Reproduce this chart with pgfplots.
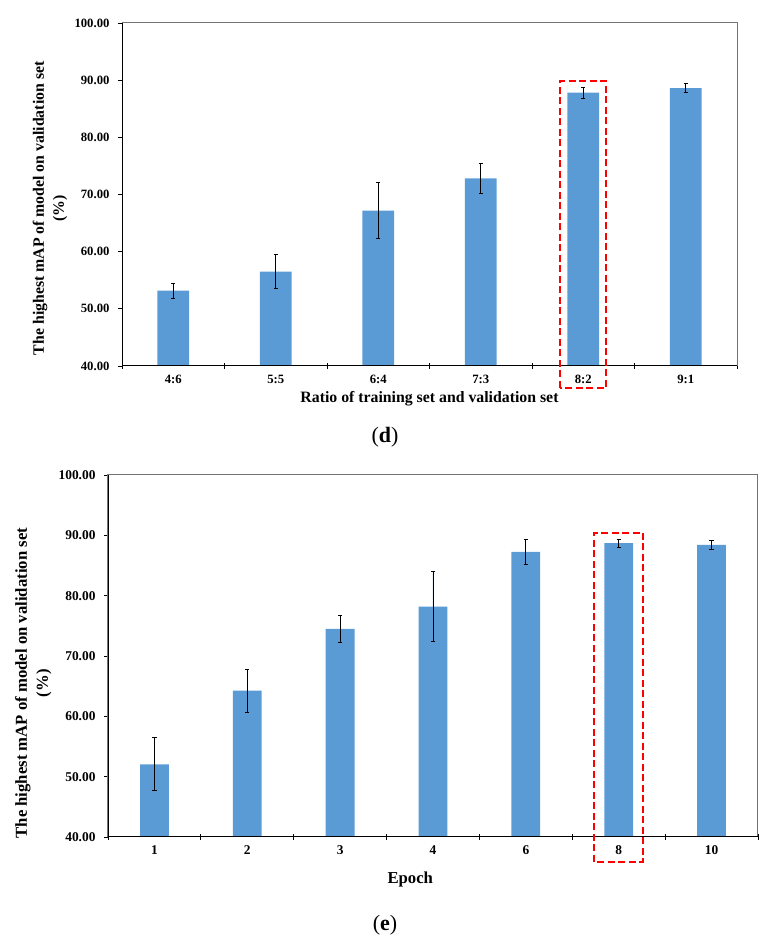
\documentclass[border=0pt]{standalone}
\usepackage{pgfplots}
\pgfplotsset{compat=1.18}
\usepackage{fontspec}
\setmainfont{Liberation Serif}
\definecolor{barblue}{HTML}{5B9BD5}
\definecolor{boxred}{HTML}{FF0000}
\pgfplotsset{
  mapbars/.style={
    scale only axis, ybar, bar width=0.31,
    ymin=40, ymax=100, ytick={40,50,...,100},
    axis line style={draw=black!55, line width=1pt},
    tick style={draw=black, line width=0.9pt},
    xtick pos=left, ytick pos=left, tick align=outside,
    major tick length=4pt, minor tick length=6pt,
    major x tick style={draw=none},
    minor x tick style={yshift=3pt},
    /pgf/number format/assume math mode=true,
    yticklabel style={/pgf/number format/fixed, /pgf/number format/fixed zerofill,
      /pgf/number format/precision=2, xshift=-5pt},
    xticklabel style={yshift=-1.5pt},
    ylabel style={align=center, anchor=center},
    xlabel style={anchor=center},
  },
  errstyle/.style={
    fill=barblue, draw=none,
    error bars/.cd, y dir=both, y explicit,
    error bar style={draw=black, line width=0.9pt},
    error mark options={rotate=90, draw=black, mark size=2.2pt, line width=0.9pt},
  },
}
\tikzset{redbox/.style={boxred, line width=1.8pt, dash pattern=on 7pt off 3.5pt}}
\begin{document}
\begin{tikzpicture}
\useasboundingbox (0,0) rectangle (770pt,946pt);

% panel (d)
\begin{axis}[mapbars,
  at={(122pt,580pt)}, anchor=south west, width=615pt, height=343pt,
  xmin=-0.5, xmax=5.5,
  xtick={0,...,5}, xticklabels={4:6,5:5,6:4,7:3,8:2,9:1},
  minor xtick={-0.5,0.5,...,5.5},
  tick label style={font=\bfseries\fontsize{12.7}{14}\selectfont},
  ylabel={The highest mAP of model on validation set\\(\%)},
  ylabel style={font=\bfseries\fontsize{15.8}{20}\selectfont, at={(axis description cs:-0.117,0.46)}},
  xlabel={Ratio of training set and validation set},
  xlabel style={font=\bfseries\fontsize{15.8}{18}\selectfont, at={(axis description cs:0.5,-0.096)}},
]
\addplot[errstyle] coordinates {
  (0,53.2) +- (0,1.3)
  (1,56.5) +- (0,3.0)
  (2,67.2) +- (0,4.9)
  (3,72.8) +- (0,2.6)
  (4,87.8) +- (0,0.95)
  (5,88.6) +- (0,0.8)
};
\coordinate (d1) at (axis cs:3.776,36.2);
\coordinate (d2) at (axis cs:4.222,89.86);
\coordinate (dtl) at (rel axis cs:0,1);
\coordinate (dbl) at (rel axis cs:0,0);
\coordinate (dbr) at (rel axis cs:1,0);
\end{axis}
\draw[black, line width=1pt] (dtl) -- (dbl) -- (dbr);
\draw[redbox] (d1) rectangle (d2);
\node[font=\fontsize{22}{24}\selectfont] at (385pt,509pt) {(\textbf{d})};

% panel (e)
\begin{axis}[mapbars,
  at={(108pt,109pt)}, anchor=south west, width=650pt, height=362pt,
  xmin=-0.5, xmax=6.5,
  xtick={0,...,6}, xticklabels={1,2,3,4,6,8,10},
  minor xtick={-0.5,0.5,...,6.5},
  tick label style={font=\bfseries\fontsize{13.4}{15}\selectfont},
  ylabel={The highest mAP of model on validation set\\(\%)},
  ylabel style={font=\bfseries\fontsize{16.7}{21}\selectfont, at={(axis description cs:-0.115,0.425)}},
  xlabel={Epoch},
  xlabel style={font=\bfseries\fontsize{16.7}{19}\selectfont, at={(axis description cs:0.465,-0.116)}},
]
\addplot[errstyle] coordinates {
  (0,52.05) +- (0,4.4)
  (1,64.25) +- (0,3.6)
  (2,74.5) +- (0,2.25)
  (3,78.2) +- (0,5.8)
  (4,87.25) +- (0,2.05)
  (5,88.7) +- (0,0.7)
  (6,88.4) +- (0,0.75)
};
\coordinate (e1) at (axis cs:4.737,35.9);
\coordinate (e2) at (axis cs:5.261,90.44);
\coordinate (etl) at (rel axis cs:0,1);
\coordinate (ebl) at (rel axis cs:0,0);
\coordinate (ebr) at (rel axis cs:1,0);
\end{axis}
\draw[black, line width=1pt] (etl) -- (ebl) -- (ebr);
\draw[redbox] (e1) rectangle (e2);
\node[font=\fontsize{22}{24}\selectfont] at (385pt,21pt) {(\textbf{e})};
\end{tikzpicture}
\end{document}
